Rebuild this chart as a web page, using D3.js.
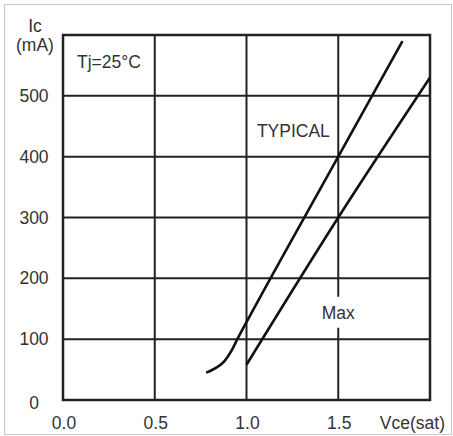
<!DOCTYPE html>
<html>
<head>
<meta charset="utf-8">
<script src="https://cdn.jsdelivr.net/npm/d3@7"></script>
<style>
  body { margin: 0; background: #fff; }
  text { font-family: "Liberation Sans", Arial, sans-serif; fill: #333; font-size: 17.5px; }
</style>
</head>
<body>
<script>
// data
var typical = [[0.78, 45], [0.84, 54], [0.88, 64], [0.92, 82], [0.95, 100], [1.0, 128], [1.5, 400], [1.85, 590]];
var maxCurve = [[1.0, 58], [1.5, 300], [2.0, 530]];
var xTicks = [0.0, 0.5, 1.0, 1.5];
var xGrid = [0.5, 1.0, 1.5];
var yTicks = [0, 100, 200, 300, 400, 500];
var yGrid = [100, 200, 300, 400, 500];

var W = 453, H = 436;
var margin = {top: 35, right: 23, bottom: 36, left: 63},
    width = W - margin.left - margin.right,
    height = H - margin.top - margin.bottom;

var x = d3.scaleLinear().domain([0, 2]).range([0, width]);
var y = d3.scaleLinear().domain([0, 600]).range([height, 0]);

var svg = d3.select("body").append("svg")
    .attr("width", W)
    .attr("height", H);

// light outer border
svg.append("rect")
    .attr("x", 4.5).attr("y", 4.5)
    .attr("width", W - 6).attr("height", H - 6)
    .attr("fill", "none").attr("stroke", "#c8c8c8").attr("stroke-width", 1);

var g = svg.append("g")
    .attr("transform", "translate(" + margin.left + "," + margin.top + ")");

// grid
g.selectAll(".hgrid").data(yGrid).enter().append("line")
    .attr("x1", 0).attr("x2", width)
    .attr("y1", function(d) { return y(d); }).attr("y2", function(d) { return y(d); })
    .attr("stroke", "#222").attr("stroke-width", 2);

g.selectAll(".vgrid").data(xGrid).enter().append("line")
    .attr("x1", function(d) { return x(d); }).attr("x2", function(d) { return x(d); })
    .attr("y1", 0).attr("y2", height)
    .attr("stroke", "#222").attr("stroke-width", 2);

// frame
g.append("rect")
    .attr("width", width).attr("height", height)
    .attr("fill", "none").attr("stroke", "#222").attr("stroke-width", 2.5);

// curves
var line = d3.line()
    .x(function(d) { return x(d[0]); })
    .y(function(d) { return y(d[1]); })
    .curve(d3.curveMonotoneX);

g.append("path").datum(typical)
    .attr("d", line)
    .attr("fill", "none").attr("stroke", "#111").attr("stroke-width", 2.6);

g.append("path").datum(maxCurve)
    .attr("d", line)
    .attr("fill", "none").attr("stroke", "#111").attr("stroke-width", 2.6);

// labels
g.append("text")
    .attr("x", x(1.25) + 1).attr("y", y(432))
    .attr("text-anchor", "middle")
    .text("TYPICAL");

// Max label with white background cutting the gridline
g.append("rect")
    .attr("x", x(1.5) - 19).attr("y", y(150) - 12)
    .attr("width", 38).attr("height", 31)
    .attr("fill", "#fff");
g.append("text")
    .attr("x", x(1.5)).attr("y", y(133))
    .attr("text-anchor", "middle")
    .text("Max");

g.append("text")
    .attr("x", 14).attr("y", 33)
    .text("Tj=25°C");

// y tick labels
g.selectAll(".ylab").data(yTicks).enter().append("text")
    .attr("x", -29)
    .attr("y", function(d) { return y(d) + (d === 0 ? 9 : 6); })
    .attr("text-anchor", "middle")
    .text(function(d) { return d; });

// x tick labels
g.selectAll(".xlab").data(xTicks).enter().append("text")
    .attr("x", function(d) { return x(d) + 1; })
    .attr("y", height + 29)
    .attr("text-anchor", "middle")
    .text(function(d) { return d.toFixed(1); });

g.append("text")
    .attr("x", width + 15).attr("y", height + 29)
    .attr("text-anchor", "end")
    .text("Vce(sat)");

g.append("text")
    .attr("x", -28).attr("y", 16)
    .attr("text-anchor", "middle")
    .text("(mA)");

g.append("text")
    .attr("x", -28).attr("y", -3)
    .attr("text-anchor", "middle")
    .text("Ic");
</script>
</body>
</html>
